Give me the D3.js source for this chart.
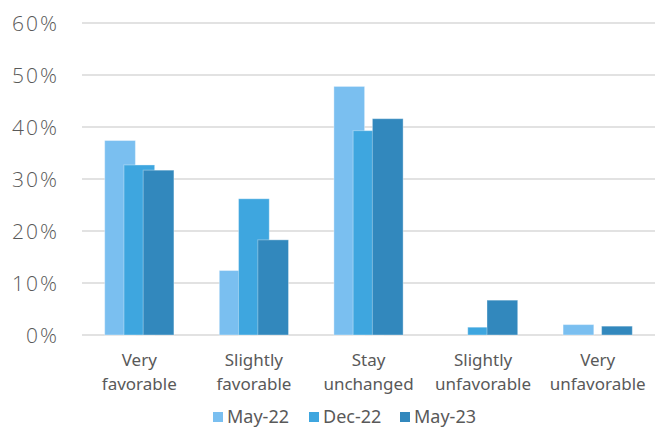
<!DOCTYPE html>
<html>
<head>
<meta charset="utf-8">
<script src="https://cdn.jsdelivr.net/npm/d3@7/dist/d3.min.js"></script>
<style>
  html, body { margin: 0; padding: 0; background: #fff; }
  svg { display: block; font-family: "Noto Sans", sans-serif; }
</style>
</head>
<body>
<svg id="chart" width="656" height="428"></svg>
<script>
// Survey outlook by category, three survey waves
const categories = [["Very", "favorable"], ["Slightly", "favorable"], ["Stay", "unchanged"], ["Slightly", "unfavorable"], ["Very", "unfavorable"]];
const seriesNames = ["May-22", "Dec-22", "May-23"];
const may22 = [0.374, 0.124, 0.478, 0.0, 0.020];
const dec22 = [0.327, 0.262, 0.393, 0.015, 0.0];
const may23 = [0.317, 0.183, 0.416, 0.067, 0.017];
const yTicks = [0, 0.1, 0.2, 0.3, 0.4, 0.5, 0.6];
const colors = ["#7abff0", "#3ea6df", "#3288bd"];

const series = [may22, dec22, may23];
const svg = d3.select("#chart");

const x = d3.scaleBand().domain(d3.range(categories.length)).range([82, 655]).padding(0);
const y = d3.scaleLinear().domain([0, 0.6]).range([335, 23]);

// gridlines
svg.append("g").selectAll("line").data(yTicks).join("line")
  .attr("x1", 82).attr("x2", 655)
  .attr("y1", d => y(d)).attr("y2", d => y(d))
  .attr("stroke", "#d9d9d9").attr("stroke-width", 1.3);

// y axis labels
const yAxis = d3.axisLeft(y).tickValues(yTicks).tickFormat(d3.format(".0%")).tickSize(0).tickPadding(0);
const gy = svg.append("g").attr("transform", "translate(59,0)").call(yAxis);
gy.select(".domain").remove();
gy.selectAll("text").attr("fill", "#595959").style("font-size", "21px")
  .style("font-family", "'Open Sans', sans-serif").style("font-weight", 300)
  .style("letter-spacing", "2px")
  .attr("dy", "0.36em");

// overlapping clustered bars
const bw = x.bandwidth() * 0.268;
const step = x.bandwidth() * 0.168;
const groupSpan = step * 2 + bw;
series.forEach((vals, si) => {
  svg.append("g").selectAll("rect").data(vals.map((v, i) => ({ v, i }))).join("rect")
    .filter(d => d.v > 0)
    .attr("x", d => x(d.i) + x.bandwidth() / 2 - groupSpan / 2 + si * step)
    .attr("y", d => y(d.v))
    .attr("width", bw)
    .attr("height", d => y(0) - y(d.v))
    .attr("fill", colors[si])
    .attr("stroke", "rgba(255,255,255,0.35)")
    .attr("stroke-width", 1);
});

// category labels
const xl = svg.append("g");
categories.forEach((lines, i) => {
  const t = xl.append("text")
    .attr("x", x(i) + x.bandwidth() / 2)
    .attr("text-anchor", "middle")
    .attr("fill", "#595959")
    .style("font-size", "17px");
  lines.forEach((ln, k) => {
    t.append("tspan").attr("x", x(i) + x.bandwidth() / 2).attr("y", 366 + k * 23.5).text(ln);
  });
});

// legend
const legendX = [213, 309, 400];
const lg = svg.append("g");
seriesNames.forEach((name, i) => {
  lg.append("rect").attr("x", legendX[i]).attr("y", 412).attr("width", 10).attr("height", 10).attr("fill", colors[i]);
  lg.append("text").attr("x", legendX[i] + 14).attr("y", 423).attr("fill", "#595959")
    .style("font-size", "18px").text(name);
});
</script>
</body>
</html>
